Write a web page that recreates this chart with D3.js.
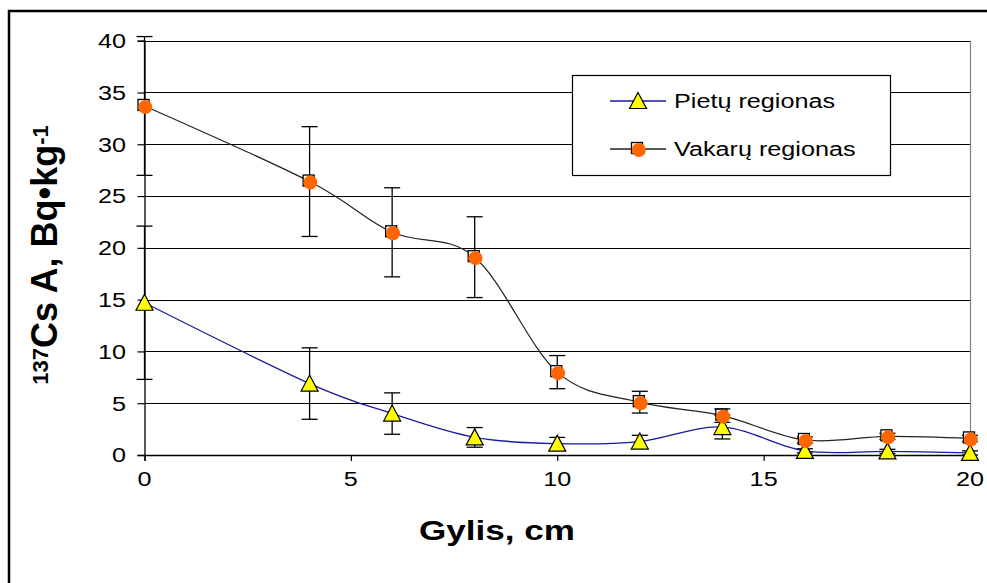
<!DOCTYPE html>
<html lang="lt">
<head>
  <meta charset="UTF-8">
  <title>137Cs</title>
  <style>
    body { margin: 0; background: #fff; }
    svg { display: block; font-family: "Liberation Sans", Arial, sans-serif; }
    .grid line { stroke: #000; stroke-width: 1; }
    .tick-lbl { font-size: 21px; fill: #000; }
  </style>
</head>
<body>
  <svg id="chart"></svg>

  <script src="https://d3js.org/d3.v7.min.js"></script>
  <script>
    // depth (cm)
    const gylis = [0, 4, 6, 8, 10, 12, 14, 16, 18, 20];
    const pietu = [14.7, 6.9, 4.0, 1.7, 1.1, 1.3, 2.7, 0.4, 0.35, 0.2];
    const pietuErr = [7.4, 3.45, 2.0, 0.95, 0.6, 0.6, 1.15, 0.2, 0.2, 0.2];
    const vakaru = [33.7, 26.4, 21.5, 19.1, 8.0, 5.1, 3.8, 1.45, 1.8, 1.6];
    const vakaruErr = [6.7, 5.3, 4.3, 3.9, 1.6, 1.05, 0.65, 0.3, 0.3, 0.3];
    const xTicks = [0, 5, 10, 15, 20];
    const yTicks = [0, 5, 10, 15, 20, 25, 30, 35, 40];
    const serijos = ['Pietų regionas', 'Vakarų regionas'];

    const W = 987, H = 583;
    const sx = 1.2; // text is a bit wide in the original
    const svg = d3.select('#chart').attr('width', W).attr('height', H);

    const x = d3.scaleLinear().domain([0, 20]).range([144.5, 970]);
    const y = d3.scaleLinear().domain([0, 40]).range([455, 40.7]);

    // outer frame
    svg.append('rect')
      .attr('x', 9).attr('y', 11).attr('width', W + 10).attr('height', H + 10)
      .attr('fill', 'none').attr('stroke', '#000').attr('stroke-width', 2.5);

    // grid
    svg.append('g').attr('class', 'grid')
      .selectAll('line').data(yTicks.filter(d => d > 0)).enter().append('line')
      .attr('x1', x(0)).attr('x2', x(20))
      .attr('y1', d => Math.round(y(d)) + 0.5).attr('y2', d => Math.round(y(d)) + 0.5);

    // plot area border (right, gray)
    svg.append('line')
      .attr('x1', x(20) + 0.5).attr('x2', x(20) + 0.5)
      .attr('y1', y(40)).attr('y2', y(0))
      .attr('stroke', '#808080').attr('stroke-width', 1.2);

    // axes
    const yAxis = svg.append('g').attr('transform', `translate(${x(0)},0)`)
      .call(d3.axisLeft(y).tickValues(yTicks).tickSize(7).tickFormat(''));
    const xAxis = svg.append('g').attr('transform', `translate(0,${y(0)})`)
      .call(d3.axisBottom(x).tickValues(xTicks).tickSize(6).tickFormat(''));
    [yAxis, xAxis].forEach(a => {
      a.select('.domain').attr('stroke', '#000').attr('stroke-width', 1.3);
      a.selectAll('.tick line').attr('stroke', '#000').attr('stroke-width', 1.2);
    });

    // tick labels
    svg.selectAll('.ylbl').data(yTicks).enter().append('text')
      .attr('class', 'tick-lbl')
      .attr('text-anchor', 'end').attr('dy', '0.35em')
      .attr('transform', d => `translate(126,${y(d)}) scale(${sx},1)`)
      .text(d => d);
    svg.selectAll('.xlbl').data(xTicks).enter().append('text')
      .attr('class', 'tick-lbl')
      .attr('text-anchor', 'middle')
      .attr('transform', d => `translate(${x(d)},486) scale(${sx},1)`)
      .text(d => d);

    // axis titles
    svg.append('text')
      .attr('text-anchor', 'middle')
      .attr('transform', `translate(497,540) scale(1.3,1)`)
      .style('font-size', '27px').style('font-weight', 'bold')
      .text('Gylis, cm');

    const yt = svg.append('text')
      .attr('text-anchor', 'middle')
      .attr('transform', `translate(57,255) rotate(-90)`)
      .style('font-size', '36px').style('font-weight', 'bold');
    yt.append('tspan').attr('baseline-shift', '40%').style('font-size', '22px').text('137');
    yt.append('tspan').text('Cs A, Bq•kg');
    yt.append('tspan').attr('baseline-shift', '40%').style('font-size', '22px').text('-1');

    const idx = d3.range(gylis.length);
    const curve = d3.curveCardinal.tension(0);

    // error bars
    function errBars(vals, errs) {
      const g = svg.append('g').attr('stroke', '#000').attr('stroke-width', 1.3);
      idx.forEach(i => {
        const cx = x(gylis[i]);
        const hi = y(vals[i] + errs[i]), lo = y(vals[i] - errs[i]);
        g.append('line').attr('x1', cx).attr('x2', cx).attr('y1', hi).attr('y2', lo);
        g.append('line').attr('x1', cx - 8).attr('x2', cx + 8).attr('y1', hi).attr('y2', hi);
        g.append('line').attr('x1', cx - 8).attr('x2', cx + 8).attr('y1', lo).attr('y2', lo);
      });
    }
    errBars(pietu, pietuErr);
    errBars(vakaru, vakaruErr);

    // lines
    const lineP = d3.line().x(i => x(gylis[i])).y(i => y(pietu[i])).curve(curve);
    const lineV = d3.line().x(i => x(gylis[i])).y(i => y(vakaru[i])).curve(curve);
    svg.append('path').datum(idx).attr('d', lineP)
      .attr('fill', 'none').attr('stroke', '#1a1a9a').attr('stroke-width', 1.3);
    svg.append('path').datum(idx).attr('d', lineV)
      .attr('fill', 'none').attr('stroke', '#222').attr('stroke-width', 1.2);

    // markers
    const tri = 'M0,-8.5 L8.5,7.5 L-8.5,7.5 Z';
    function triMark(g, cx, cy) {
      g.append('path').attr('d', tri)
        .attr('transform', `translate(${cx},${cy})`)
        .attr('fill', '#ffff00').attr('stroke', '#000').attr('stroke-width', 1.2);
    }
    function dotMark(g, cx, cy) {
      g.append('rect').attr('x', cx - 6.5).attr('y', cy - 6.5).attr('width', 11).attr('height', 11)
        .attr('fill', '#fff').attr('stroke', '#000').attr('stroke-width', 1.3);
      g.append('circle').attr('cx', cx + 0.8).attr('cy', cy + 1).attr('r', 7)
        .attr('fill', '#ff6600');
    }
    const mP = svg.append('g');
    idx.forEach(i => triMark(mP, x(gylis[i]), y(pietu[i])));
    const mV = svg.append('g');
    idx.forEach(i => dotMark(mV, x(gylis[i]), y(vakaru[i])));

    // legend
    const lg = svg.append('g');
    lg.append('rect').attr('x', 572.5).attr('y', 75.5).attr('width', 318).attr('height', 100)
      .attr('fill', '#fff').attr('stroke', '#000').attr('stroke-width', 1.2);
    const ly = [101, 149];
    const lcol = ['#1a1a9a', '#222'];
    serijos.forEach((s, k) => {
      lg.append('line').attr('x1', 610).attr('x2', 666).attr('y1', ly[k]).attr('y2', ly[k])
        .attr('stroke', lcol[k]).attr('stroke-width', 1.3);
      if (k === 0) triMark(lg, 638, ly[k]); else dotMark(lg, 638, ly[k]);
      lg.append('text').attr('class', 'tick-lbl')
        .attr('dy', '0.35em')
        .attr('transform', `translate(674,${ly[k]}) scale(${sx},1)`)
        .text(s);
    });
  </script>
</body>
</html>
